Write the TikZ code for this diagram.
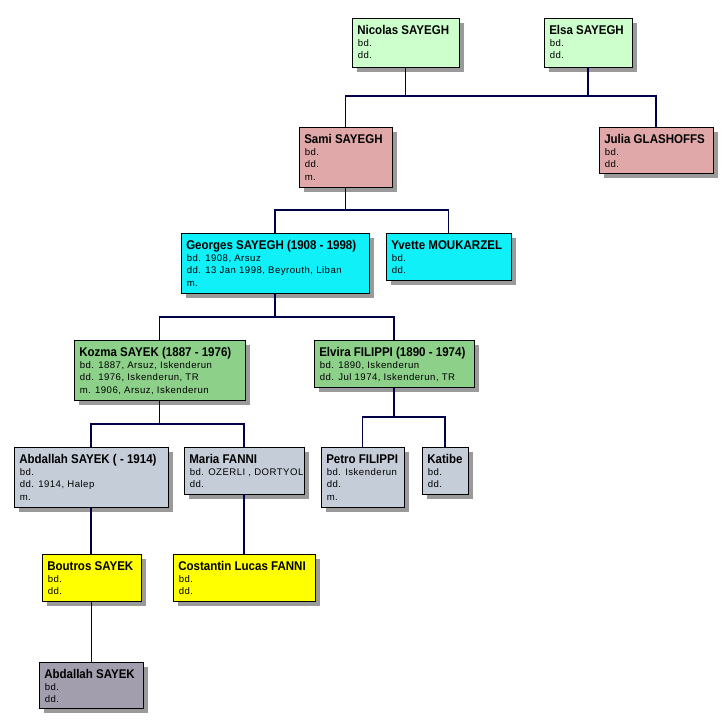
\documentclass[tikz,border=0pt]{standalone}
\usepackage{fontspec}
\setmainfont{Liberation Sans}
\newfontfamily\namefamily[FakeStretch=0.91]{Liberation Sans Bold}
\newfontfamily\detfamily[LetterSpace=5]{Liberation Sans}
\usetikzlibrary{fit,calc}
\definecolor{cGreenL}{HTML}{CCFFCC}
\definecolor{cPink}{HTML}{E0A8A8}
\definecolor{cCyan}{HTML}{10F0F8}
\definecolor{cGreen}{HTML}{8DD08A}
\definecolor{cGrayBlue}{HTML}{C4CDD8}
\definecolor{cYellow}{HTML}{FFFF00}
\definecolor{cPurple}{HTML}{A39EAE}
\definecolor{cLink}{HTML}{000048}
\definecolor{cShadow}{HTML}{9A9A9A}
\tikzset{
  pbox/.style={draw=black, line width=0.75pt, inner sep=0pt, outer sep=0pt},
  pshadow/.style={fill=cShadow},
  link/.style={draw=cLink, line width=0.8pt},
  nametext/.style={anchor=base west, inner sep=0pt, font=\fontsize{9.5}{11}\namefamily, text=black},
  dettext/.style={anchor=north west, inner sep=0pt, align=left, font=\fontsize{7.2}{9.4}\detfamily, text=black}
}
\newcommand\famperson[8]{%
  \fill[pshadow] (#2+5,#3+5) rectangle (#4+5,#5+5);
  \node[pbox, fill=#6, fit={(#2,#3)(#4,#5)}] (#1) {};
  \node[nametext] (#1-n) at ($(#1.north west)+(5,16)$) {#7};
  \node[dettext] (#1-d) at ($(#1.north west)+(5.5,21)$) {#8};
}
\begin{document}
\begin{tikzpicture}[x=0.75pt,y=-0.75pt]
\useasboundingbox[fill=white] (0,0) rectangle (723,721);
\famperson{nic}{352}{18}{459}{67}{cGreenL}{Nicolas SAYEGH}{bd.\\dd.}
\famperson{elsa}{544}{18}{632}{67}{cGreenL}{Elsa SAYEGH}{bd.\\dd.}
\famperson{sami}{299}{127}{392}{187}{cPink}{Sami SAYEGH}{bd.\\dd.\\m.}
\famperson{julia}{599}{127}{713}{173}{cPink}{Julia GLASHOFFS}{bd.\\dd.}
\famperson{georges}{181}{233}{369}{293}{cCyan}{Georges SAYEGH (1908 - 1998)}{bd. 1908, Arsuz\\dd. 13 Jan 1998, Beyrouth, Liban\\m.}
\famperson{yvette}{386}{233}{511}{280}{cCyan}{Yvette MOUKARZEL}{bd.\\dd.}
\famperson{kozma}{74}{340}{245}{400}{cGreen}{Kozma SAYEK (1887 - 1976)}{bd. 1887, Arsuz, Iskenderun\\dd. 1976, Iskenderun, TR\\m. 1906, Arsuz, Iskenderun}
\famperson{elvira}{314}{340}{474}{387}{cGreen}{Elvira FILIPPI (1890 - 1974)}{bd. 1890, Iskenderun\\dd. Jul 1974, Iskenderun, TR}
\famperson{abd}{14}{447}{168}{507}{cGrayBlue}{Abdallah SAYEK ( - 1914)}{bd.\\dd. 1914, Halep\\m.}
\famperson{maria}{184}{447}{304}{494}{cGrayBlue}{Maria FANNI}{bd. OZERLI , DORTYOL\\dd.}
\famperson{petro}{321}{447}{404}{507}{cGrayBlue}{Petro FILIPPI}{bd. Iskenderun\\dd.\\m.}
\famperson{katibe}{422}{447}{468}{494}{cGrayBlue}{Katibe}{bd.\\dd.}
\famperson{boutros}{42}{554}{141}{601}{cYellow}{Boutros SAYEK}{bd.\\dd.}
\famperson{costantin}{173}{554}{315}{601}{cYellow}{Costantin Lucas FANNI}{bd.\\dd.}
\famperson{abdtwo}{39}{662}{143}{708}{cPurple}{Abdallah SAYEK}{bd.\\dd.}
% rails
\coordinate (r1) at (0,96);
\coordinate (r2) at (0,210);
\coordinate (r3) at (0,317);
\coordinate (r4) at (0,424);
\coordinate (r5) at (0,417);
% connectors
\draw[link] (nic.south) -- (nic.south |- r1);
\draw[link] (elsa.south) -- (elsa.south |- r1);
\draw[link] (sami.north) -- (sami.north |- r1) -| (julia.north);
\draw[link] (sami.south) -- (sami.south |- r2);
\draw[link] (georges.north) -- (georges.north |- r2) -| (yvette.north);
\draw[link] (georges.south) -- (georges.south |- r3);
\draw[link] (kozma.north) -- (kozma.north |- r3) -| (elvira.north);
\draw[link] (kozma.south) -- (kozma.south |- r4);
\draw[link] (abd.north) -- (abd.north |- r4) -| (maria.north);
\draw[link] (elvira.south) -- (elvira.south |- r5);
\draw[link] (petro.north) -- (petro.north |- r5) -| (katibe.north);
\draw[link] (abd.south) -- (abd.south |- boutros.north);
\draw[link] (maria.south) -- (maria.south |- costantin.north);
\draw[link] (boutros.south) -- (boutros.south |- abdtwo.north);
\end{tikzpicture}
\end{document}
